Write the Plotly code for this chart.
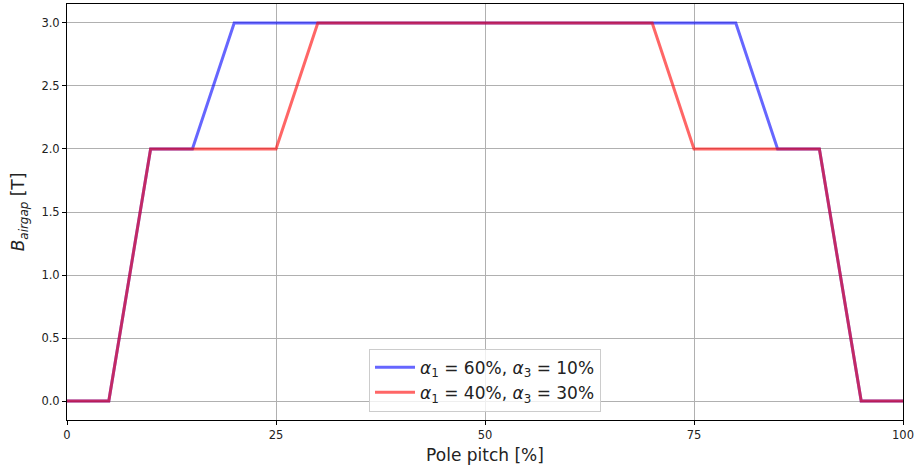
import plotly.graph_objects as go

x_vals = [0, 5, 10, 15, 20, 25, 30, 35, 40, 45, 50, 55, 60, 65, 70, 75, 80, 85, 90, 95, 100]
b_case1 = [0, 0, 2, 2, 3, 3, 3, 3, 3, 3, 3, 3, 3, 3, 3, 3, 3, 2, 2, 0, 0]
b_case2 = [0, 0, 2, 2, 2, 2, 3, 3, 3, 3, 3, 3, 3, 3, 3, 2, 2, 2, 2, 0, 0]
names = ["<i>α</i><sub>1</sub> = 60%, <i>α</i><sub>3</sub> = 10%",
         "<i>α</i><sub>1</sub> = 40%, <i>α</i><sub>3</sub> = 30%"]
x_ticks = [0, 25, 50, 75, 100]
y_ticks = [0.0, 0.5, 1.0, 1.5, 2.0, 2.5, 3.0]

fig = go.Figure()
fig.add_trace(go.Scatter(x=x_vals, y=b_case1, mode="lines", name=names[0],
                         line=dict(color="rgba(0,0,255,0.6)", width=3)))
fig.add_trace(go.Scatter(x=x_vals, y=b_case2, mode="lines", name=names[1],
                         line=dict(color="rgba(255,0,0,0.6)", width=3)))

axis_common = dict(showline=True, linecolor="black", linewidth=1, mirror=True,
                   ticks="outside", ticklen=4, tickcolor="black",
                   showgrid=True, gridcolor="#b0b0b0", gridwidth=1, zeroline=False,
                   tickfont=dict(family="DejaVu Sans", size=11.5, color="#222"))

fig.update_layout(
    width=917, height=471,
    margin=dict(l=67, r=14, t=4, b=51),
    plot_bgcolor="white", paper_bgcolor="white",
    font=dict(family="DejaVu Sans", color="#222"),
    xaxis=dict(range=[0, 100], tickvals=x_ticks,
               title=dict(text="Pole pitch [%]", font=dict(size=17), standoff=8),
               **axis_common),
    yaxis=dict(range=[-0.15, 3.15], tickvals=y_ticks, tickformat=".1f",
               title=dict(text="<i>B</i><sub><i>airgap</i></sub> [T]", font=dict(size=17), standoff=12),
               **axis_common),
    legend=dict(x=0.5, y=0.02, xanchor="center", yanchor="bottom",
                bgcolor="rgba(255,255,255,0.8)", bordercolor="#cccccc", borderwidth=1,
                font=dict(size=17, family="DejaVu Sans"), itemwidth=40,
                tracegroupgap=2),
    showlegend=True,
)

fig.write_html("out.html")
